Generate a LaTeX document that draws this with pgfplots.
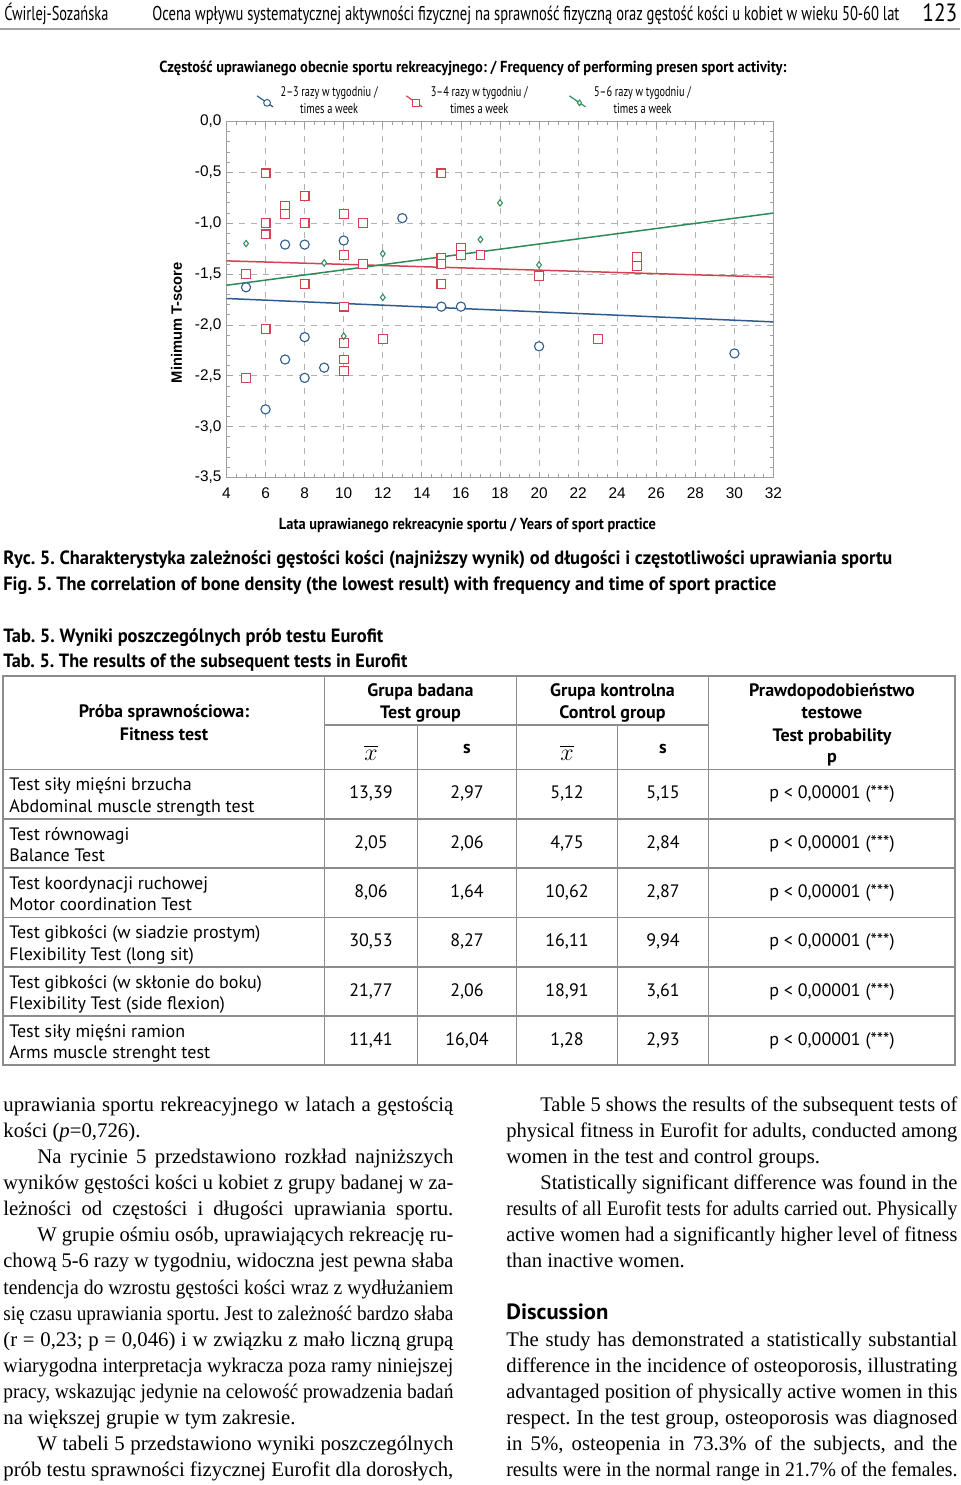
\documentclass[border=0pt]{standalone}
\usepackage{pgfplots}
\pgfplotsset{compat=1.18}
\usepackage{graphicx}
\usepackage{fontspec}
\setmainfont{Liberation Serif}
\newfontfamily\myriad{PT Sans}
\newfontfamily\arial{Liberation Sans}
\frenchspacing

\definecolor{cblue}{HTML}{2F5C8F}
\definecolor{cred}{HTML}{D3434F}
\definecolor{cgreen}{HTML}{2E8B57}
\definecolor{rulegray}{HTML}{8C8C8C}

\newcommand{\fitw}[2]{\resizebox{#1}{\height}{#2}}
\newlength{\tmpw}
\newcommand{\jl}[2]{\settowidth{\tmpw}{#2}\ifdim\tmpw>#1\relax\resizebox{#1}{\height}{#2}\else\makebox[#1][s]{#2}\fi}

\protected\def\legA{\fitw{48.5pt}{2–3 razy w tygodniu /}\\\fitw{29pt}{times a week}}
\protected\def\legB{\fitw{48.5pt}{3–4 razy w tygodniu /}\\\fitw{29pt}{times a week}}
\protected\def\legC{\fitw{48.5pt}{5–6 razy w tygodniu /}\\\fitw{29pt}{times a week}}

% table row: #1 top y, #2 pl, #3 en, #4-#7 values
\newcommand{\trow}[7]{%
  \node[anchor=base west] at (9,{#1+21}) {#2};
  \node[anchor=base west] at (9,{#1+42.5}) {#3};
  \node[anchor=base] at (371,{#1+29}) {#4};
  \node[anchor=base] at (467,{#1+29}) {#5};
  \node[anchor=base] at (567,{#1+29}) {#6};
  \node[anchor=base] at (663,{#1+29}) {#7};
  \node[anchor=base] at (832,{#1+29}) {p < 0,00001 (***)};
}

\begin{document}
\begin{tikzpicture}
\begin{scope}[x=0.5pt,y=-0.5pt]
\path[use as bounding box] (0,0) rectangle (960,1485);
% ---------- page header
\node[anchor=base west,inner sep=0pt,font=\myriad\fontsize{10}{12}\selectfont] at (4,20) {\fitw{52pt}{Ćwirlej-Sozańska}};
\node[anchor=base west,inner sep=0pt,font=\myriad\fontsize{10}{12}\selectfont] at (152,20) {\fitw{373.5pt}{Ocena wpływu systematycznej aktywności fizycznej na sprawność fizyczną oraz gęstość kości u kobiet w wieku 50-60 lat}};
\node[anchor=base west,inner sep=0pt,font=\myriad\fontsize{12.5}{14}\selectfont] at (922,21) {\fitw{17.5pt}{123}};
\draw[rulegray!80,line width=1pt] (0,29) -- (960,29);
% ---------- captions
\begin{scope}[every node/.style={anchor=base west,inner sep=0pt,font=\myriad\bfseries\fontsize{9.6}{12}\selectfont}]
\node at (3,564) {\fitw{444.5pt}{Ryc. 5. Charakterystyka zależności gęstości kości (najniższy wynik) od długości i częstotliwości uprawiania sportu}};
\node at (3,590) {\fitw{386.5pt}{Fig. 5. The correlation of bone density (the lowest result) with frequency and time of sport practice}};
\node at (3,642) {\fitw{190pt}{Tab. 5. Wyniki poszczególnych prób testu Eurofit}};
\node at (3,667) {\fitw{202pt}{Tab. 5. The results of the subsequent tests in Eurofit}};
\end{scope}
% ---------- table
\begin{scope}[rulegray,line width=0.65pt]
\draw (3,676) rectangle (955,1065);
\foreach \xx in {324.5,516.7,708.5} \draw (\xx,676) -- (\xx,1065);
\foreach \xx in {417.3,617.3} \draw (\xx,725) -- (\xx,1065);
\draw (324.5,725) -- (708.5,725);
\foreach \yy in {769.5,819,868,917.5,967,1016} \draw (3,\yy) -- (955,\yy);
\end{scope}
\begin{scope}[every node/.style={inner sep=0pt,font=\myriad\bfseries\fontsize{9}{11}\selectfont}]
\node[anchor=base] at (164,717) {Próba sprawnościowa:};
\node[anchor=base] at (164,740.5) {Fitness test};
\node[anchor=base] at (420.5,696) {Grupa badana};
\node[anchor=base] at (420.5,718.5) {Test group};
\node[anchor=base] at (612.5,696) {Grupa kontrolna};
\node[anchor=base] at (612.5,718.5) {Control group};
\node[anchor=base] at (832,696) {Prawdopodobieństwo};
\node[anchor=base] at (832,718.5) {testowe};
\node[anchor=base] at (832,741) {Test probability};
\node[anchor=base] at (832,762) {p};
\node[anchor=base] at (467,753) {s};
\node[anchor=base] at (663,753) {s};
\node[anchor=base,font=\fontsize{12.5}{14}\selectfont] at (371,760) {$\overline{x}$};
\node[anchor=base,font=\fontsize{12.5}{14}\selectfont] at (567,760) {$\overline{x}$};
\end{scope}
\begin{scope}[every node/.style={inner sep=0pt,font=\myriad\fontsize{9}{11}\selectfont}]
\trow{769.5}{Test siły mięśni brzucha}{Abdominal muscle strength test}{13,39}{2,97}{5,12}{5,15}
\trow{819}{Test równowagi}{Balance Test}{2,05}{2,06}{4,75}{2,84}
\trow{868}{Test koordynacji ruchowej}{Motor coordination Test}{8,06}{1,64}{10,62}{2,87}
\trow{917.5}{Test gibkości (w siadzie prostym)}{Flexibility Test (long sit)}{30,53}{8,27}{16,11}{9,94}
\trow{967}{Test gibkości (w skłonie do boku)}{Flexibility Test (side flexion)}{21,77}{2,06}{18,91}{3,61}
\trow{1016}{Test siły mięśni ramion}{Arms muscle strenght test}{11,41}{16,04}{1,28}{2,93}
\end{scope}
% ---------- body text
\begin{scope}[every node/.style={anchor=base west,inner sep=0pt,font=\fontsize{10.4}{13}\selectfont}]
\node at (3,1111.5) {\jl{225pt}{uprawiania sportu rekreacyjnego w latach a gęstością}};
\node at (3,1137.6) {kości (\textit{p}=0,726).};
\node at (37,1163.6) {\jl{208pt}{Na rycinie 5 przedstawiono rozkład najniższych}};
\node at (3,1189.7) {\jl{225pt}{wyników gęstości kości u kobiet z grupy badanej w za-}};
\node at (3,1215.8) {\jl{225pt}{leżności od częstości i długości uprawiania sportu.}};
\node at (37,1241.9) {\jl{208pt}{W grupie ośmiu osób, uprawiających rekreację ru-}};
\node at (3,1267.9) {\jl{225pt}{chową 5-6 razy w tygodniu, widoczna jest pewna słaba}};
\node at (3,1294) {\jl{225pt}{tendencja do wzrostu gęstości kości wraz z wydłużaniem}};
\node at (3,1320.1) {\jl{225pt}{się czasu uprawiania sportu. Jest to zależność bardzo słaba}};
\node at (3,1346.1) {\jl{225pt}{(r = 0,23; p = 0,046) i w związku z mało liczną grupą}};
\node at (3,1372.2) {\jl{225pt}{wiarygodna interpretacja wykracza poza ramy niniejszej}};
\node at (3,1398.3) {\jl{225pt}{pracy, wskazując jedynie na celowość prowadzenia badań}};
\node at (3,1424.3) {na większej grupie w tym zakresie.};
\node at (37,1450.4) {\jl{208pt}{W tabeli 5 przedstawiono wyniki poszczególnych}};
\node at (3,1476.5) {\jl{225pt}{prób testu sprawności fizycznej Eurofit dla dorosłych,}};
% right column
\node at (540,1111.5) {\jl{208.5pt}{Table 5 shows the results of the subsequent tests of}};
\node at (506,1137.6) {\jl{225.5pt}{physical fitness in Eurofit for adults, conducted among}};
\node at (506,1163.6) {women in the test and control groups.};
\node at (540,1189.7) {\jl{208.5pt}{Statistically significant difference was found in the}};
\node at (506,1215.8) {\jl{225.5pt}{results of all Eurofit tests for adults carried out. Physically}};
\node at (506,1241.9) {\jl{225.5pt}{active women had a significantly higher level of fitness}};
\node at (506,1267.9) {than inactive women.};
\node[font=\myriad\bfseries\fontsize{11}{13}\selectfont] at (506,1319.5) {\fitw{51pt}{Discussion}};
\node at (506,1346.1) {\jl{225.5pt}{The study has demonstrated a statistically substantial}};
\node at (506,1372.2) {\jl{225.5pt}{difference in the incidence of osteoporosis, illustrating}};
\node at (506,1398.3) {\jl{225.5pt}{advantaged position of physically active women in this}};
\node at (506,1424.3) {\jl{225.5pt}{respect. In the test group, osteoporosis was diagnosed}};
\node at (506,1450.4) {\jl{225.5pt}{in 5\%, osteopenia in 73.3\% of the subjects, and the}};
\node at (506,1476.5) {\jl{225.5pt}{results were in the normal range in 21.7\% of the females.}};
\end{scope}
\end{scope}

% ---------- the chart
\begin{axis}[
  at={(113.25pt,-238.75pt)}, anchor=south west,
  scale only axis, width=273.5pt, height=178pt,
  xmin=4, xmax=32, ymin=-3.5, ymax=0,
  xtick={4,6,8,10,12,14,16,18,20,22,24,26,28,30,32},
  ytick={-3.5,-3,-2.5,-2,-1.5,-1,-0.5,0},
  yticklabels={{-3,5},{-3,0},{-2,5},{-2,0},{-1,5},{-1,0},{-0,5},{0,0}},
  minor x tick num=3, minor y tick num=4,
  xmajorgrids, ymajorgrids,
  major grid style={draw=gray!60, dashed, line width=0.4pt},
  axis line style={draw=gray!75, line width=0.5pt},
  tick style={draw=gray!75, line width=0.4pt},
  major tick length=3pt, minor tick length=1.8pt,
  tick label style={font=\arial\fontsize{7.7}{9}\selectfont},
  /pgf/number format/assume math mode=true,
  xticklabel style={yshift=-1.5pt},
  yticklabel style={xshift=1pt},
  title={\fitw{313.5pt}{Częstość uprawianego obecnie sportu rekreacyjnego: / Frequency of performing presen sport activity:}},
  title style={at={(axis description cs:0.4506,1.114)}, anchor=center, inner sep=0pt, font=\myriad\bfseries\fontsize{8}{10}\selectfont},
  xlabel={\fitw{188.5pt}{Lata uprawianego rekreacynie sportu / Years of sport practice}},
  xlabel style={at={(axis description cs:0.4406,-0.1334)}, anchor=center, inner sep=0pt, font=\myriad\bfseries\fontsize{8}{10}\selectfont},
  ylabel={\fitw{60.5pt}{Minimum T-score}},
  ylabel style={at={(axis description cs:-0.0914,0.435)}, anchor=center, inner sep=0pt, font=\arial\bfseries\fontsize{7.5}{9}\selectfont},
  legend columns=3,
  legend image code/.code={\draw[mark repeat=2,mark phase=2,#1] plot coordinates {(0pt,3pt) (5pt,-0.5pt) (8pt,-2.5pt)};},
  legend style={at={(axis description cs:0.0548,1.103)}, anchor=north west, draw=none, fill=none,
    inner sep=0pt, outer sep=0pt,
    nodes={inner sep=1pt}, cells={align=center},
    font=\myriad\fontsize{7}{8.5}\selectfont,
    /tikz/column 1/.style={column sep=2.5pt},
    /tikz/column 2/.style={column sep=13pt},
    /tikz/column 3/.style={column sep=3pt},
    /tikz/column 4/.style={column sep=19.5pt},
    /tikz/column 5/.style={column sep=3pt}},
]
% regression lines (drawn first, below the marks)
\addplot[cblue, line width=0.75pt, no marks, forget plot] coordinates {(4,-1.74) (32,-1.97)};
\addplot[cred, line width=0.75pt, no marks, forget plot] coordinates {(4,-1.37) (32,-1.53)};
\addplot[cgreen, line width=0.75pt, no marks, forget plot] coordinates {(4,-1.61) (32,-0.90)};
% 2-3 times a week (blue circles)
\addplot[cblue, only marks, mark=*, mark size=2.3pt, mark options={line width=0.55pt, draw=cblue, fill=white}, forget plot] coordinates {
 (5,-1.63) (6,-2.83) (7,-1.21) (7,-2.34) (8,-1.21) (8,-2.12) (8,-2.52) (9,-2.42)
 (10,-1.17) (13,-0.95) (15,-1.82) (16,-1.82) (20,-2.21) (30,-2.28)};
% 3-4 times a week (red squares)
\addplot[cred, only marks, mark=square*, mark size=2.2pt, mark options={line width=0.55pt, draw=cred, fill=white}, forget plot] coordinates {
 (5,-1.50) (5,-2.52) (6,-0.51) (6,-1.00) (6,-1.11) (6,-2.04) (7,-0.83) (7,-0.91)
 (8,-0.73) (8,-1.00) (8,-1.60) (10,-0.91) (10,-1.31) (10,-1.82) (10,-2.18) (10,-2.34)
 (10,-2.45) (11,-1.00) (11,-1.40) (12,-2.14) (15,-0.51) (15,-1.34) (15,-1.40) (15,-1.60)
 (16,-1.24) (16,-1.31) (17,-1.31) (20,-1.52) (23,-2.14) (25,-1.33) (25,-1.42)};
% 5-6 times a week (green diamonds)
\addplot[cgreen, only marks, mark=diamond*, mark size=1.6pt, mark options={line width=0.5pt, draw=cgreen, fill=white}, forget plot] coordinates {
 (5,-1.20) (9,-1.39) (10,-2.11) (12,-1.30) (12,-1.73) (17,-1.16) (18,-0.80) (20,-1.41)};
% legend
\addlegendimage{cblue, line width=0.6pt, mark=*, mark size=1.7pt, mark options={line width=0.5pt, draw=cblue, fill=white}}
\addlegendentry{\legA}
\addlegendimage{cred, line width=0.6pt, mark=square*, mark size=1.7pt, mark options={line width=0.5pt, draw=cred, fill=white}}
\addlegendentry{\legB}
\addlegendimage{cgreen, line width=0.6pt, mark=diamond*, mark size=1.4pt, mark options={line width=0.5pt, draw=cgreen, fill=white}}
\addlegendentry{\legC}
\end{axis}
\end{tikzpicture}
\end{document}
